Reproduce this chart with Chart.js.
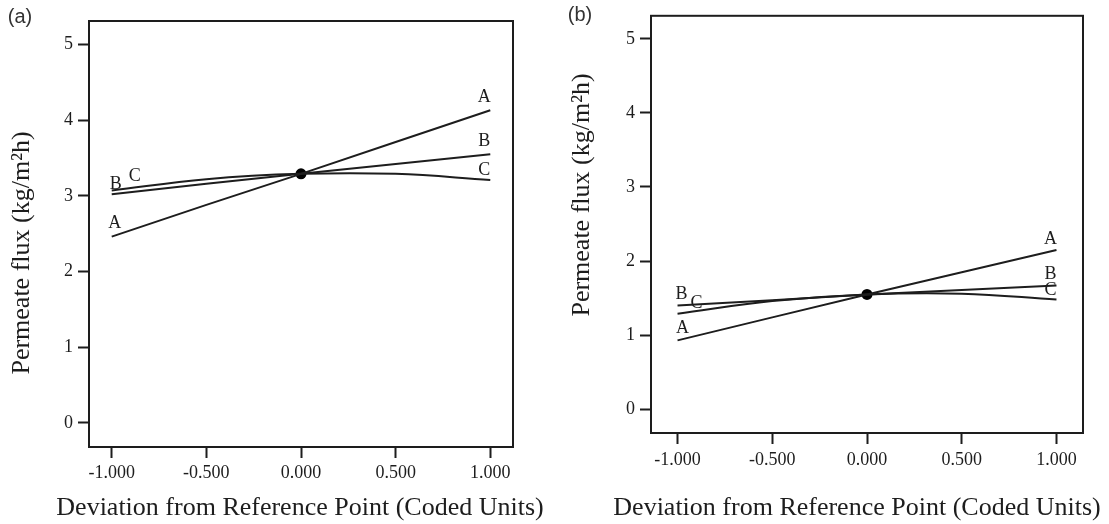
<!DOCTYPE html>
<html>
<head>
<meta charset="utf-8">
<script src="https://cdn.jsdelivr.net/npm/chart.js@4.4.0/dist/chart.umd.min.js"></script>
<style>
  html, body { margin: 0; padding: 0; background: #fff; }
  #wrap { position: relative; width: 1109px; height: 524px; overflow: hidden; }
  .panel { position: absolute; top: 0; }
  #panelA { left: 0; }
  #panelB { left: 555px; }
</style>
</head>
<body>
<div id="wrap">
  <div class="panel" id="panelA"><canvas id="chartA" width="555" height="524"></canvas></div>
  <div class="panel" id="panelB"><canvas id="chartB" width="554" height="524"></canvas></div>
</div>
<script>
// coded levels where each factor curve is sampled
const xLevels = [-1, -0.5, 0, 0.5, 1];
const xTicks = [-1, -0.5, 0, 0.5, 1];
const yTicks = [0, 1, 2, 3, 4, 5];
const factorNames = ['A', 'B', 'C'];

// (a) permeate flux, kg/m2h
const aFactorA = [2.46, 2.88, 3.29, 3.71, 4.13];
const aFactorB = [3.02, 3.16, 3.29, 3.42, 3.55];
const aFactorC = [3.07, 3.22, 3.29, 3.29, 3.21];
const aRefFlux = 3.29;

// (b) permeate flux, kg/m2h
const bFactorA = [0.93, 1.24, 1.55, 1.85, 2.15];
const bFactorB = [1.40, 1.47, 1.55, 1.61, 1.67];
const bFactorC = [1.29, 1.46, 1.55, 1.56, 1.48];
const bRefFlux = 1.55;

const INK = '#1d1d1d';
const SERIF = '"Liberation Serif", "Times New Roman", serif';

function toPoints(ys) {
  return xLevels.map((x, i) => ({ x: x, y: ys[i] }));
}

// frame, panel tag, axis titles and factor letters
// (the x title is wider than the plot box, so it is drawn here and not by the scale)
const panelDecor = {
  id: 'panelDecor',
  afterDraw(chart, args, o) {
    const ctx = chart.ctx;
    const area = chart.chartArea;
    ctx.save();

    ctx.strokeStyle = INK;
    ctx.lineWidth = 2;
    ctx.strokeRect(area.left, area.top, area.right - area.left, area.bottom - area.top);

    ctx.fillStyle = '#333';
    ctx.font = '20px "Liberation Sans", Arial, sans-serif';
    ctx.textAlign = 'center';
    ctx.textBaseline = 'middle';
    ctx.fillText(o.tag, o.tagX, o.tagY);

    ctx.fillStyle = INK;
    ctx.font = '26px ' + SERIF;
    ctx.fillText('Deviation from Reference Point (Coded Units)', o.xTitleX, o.xTitleY);

    ctx.translate(o.titleX, o.titleY);
    ctx.rotate(-Math.PI / 2);
    ctx.fillText('Permeate flux (kg/m²h)', 0, 0);
    ctx.setTransform(1, 0, 0, 1, 0, 0);

    ctx.font = '18px ' + SERIF;
    factorNames.forEach((name, i) => {
      const pts = chart.getDatasetMeta(i).data;
      const first = pts[0];
      const last = pts[pts.length - 1];
      const l = o.leftOffsets[i];
      const r = o.rightOffsets[i];
      ctx.fillText(name, first.x + l[0], first.y + l[1]);
      ctx.fillText(name, last.x + r[0], last.y + r[1]);
    });
    ctx.restore();
  }
};

function makeChart(id, series, refFlux, geo, decor) {
  const lines = series.map((ys, i) => ({
    label: factorNames[i],
    data: toPoints(ys),
    showLine: true,
    borderColor: INK,
    borderWidth: 2,
    pointRadius: 0,
    tension: i === 2 ? 0.4 : 0
  }));
  lines.push({
    label: 'ref',
    data: [{ x: 0, y: refFlux }],
    pointRadius: 5.5,
    pointBackgroundColor: '#000',
    pointBorderWidth: 0
  });

  return new Chart(document.getElementById(id), {
    type: 'scatter',
    data: { datasets: lines },
    options: {
      responsive: false,
      animation: false,
      layout: { padding: { left: 0, top: geo.top, right: geo.right, bottom: 0 } },
      plugins: {
        legend: { display: false },
        tooltip: { enabled: false },
        panelDecor: decor
      },
      scales: {
        x: {
          type: 'linear',
          min: geo.xMin,
          max: geo.xMax,
          afterBuildTicks: s => { s.ticks = xTicks.map(v => ({ value: v })); },
          afterFit: s => { s.height = geo.xHeight; },
          border: { display: false },
          grid: {
            drawOnChartArea: false,
            drawTicks: true,
            tickLength: 11,
            tickWidth: 2,
            tickColor: INK
          },
          ticks: {
            autoSkip: false,
            maxRotation: 0,
            padding: geo.xPad,
            color: INK,
            font: { family: SERIF, size: 18 },
            callback: v => v.toFixed(3)
          },
          title: { display: false }
        },
        y: {
          type: 'linear',
          min: -0.32,
          max: 5.31,
          afterBuildTicks: s => { s.ticks = yTicks.map(v => ({ value: v })); },
          afterFit: s => { s.width = geo.yWidth; },
          border: { display: false },
          grid: {
            drawOnChartArea: false,
            drawTicks: true,
            tickLength: 11,
            tickWidth: 2,
            tickColor: INK
          },
          ticks: {
            padding: 5,
            color: INK,
            font: { family: SERIF, size: 18 }
          }
        }
      }
    },
    plugins: [panelDecor]
  });
}

makeChart('chartA', [aFactorA, aFactorB, aFactorC], aRefFlux,
  { top: 21, right: 42, xHeight: 77, yWidth: 89, xMin: -1.12, xMax: 1.12, xPad: 4 },
  {
    tag: '(a)', tagX: 20, tagY: 17,
    titleX: 22, titleY: 253,
    xTitleX: 300, xTitleY: 508,
    leftOffsets: [[3, -13], [4, -10], [23, -14]],
    rightOffsets: [[-6, -13], [-6, -13], [-6, -10]]
  });

makeChart('chartB', [bFactorA, bFactorB, bFactorC], bRefFlux,
  { top: 6, right: 26, xHeight: 91, yWidth: 96, xMin: -1.14, xMax: 1.14, xPad: 5 },
  {
    tag: '(b)', tagX: 25, tagY: 15,
    titleX: 27, titleY: 195,
    xTitleX: 302, xTitleY: 508,
    leftOffsets: [[5, -12], [4, -11], [19, -10]],
    rightOffsets: [[-6, -11], [-6, -11], [-6, -9]]
  });
</script>
</body>
</html>
